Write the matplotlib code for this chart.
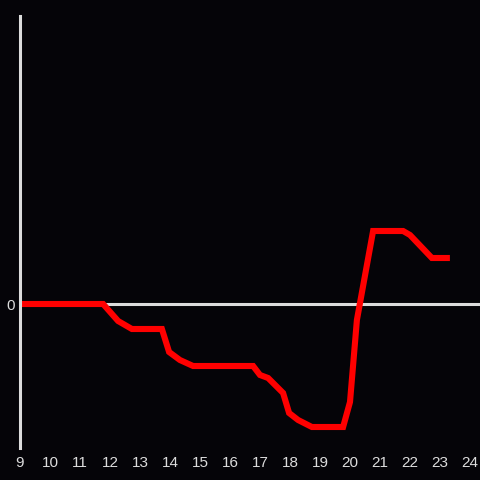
import matplotlib
matplotlib.use("Agg")
from matplotlib import pyplot as plt

# hours of day and value (arbitrary units)
hours = [9.0, 11.77, 12.27, 12.73, 13.73, 13.97, 14.33, 14.77, 16.77, 17.0, 17.27,
         17.77, 17.97, 18.27, 18.73, 19.77, 20.0, 20.23, 20.77, 21.77, 22.0, 22.73, 23.33]
values = [0.0, 0.0, -1.7, -2.5, -2.5, -4.8, -5.6, -6.2, -6.2, -7.1, -7.4,
          -8.9, -10.9, -11.6, -12.3, -12.3, -9.8, -1.6, 7.3, 7.3, 6.9, 4.6, 4.6]
xticks = list(range(9, 25))

bg = '#050408'
fg = '#dcdcdc'

fig = plt.figure(figsize=(4.8, 4.8), dpi=100, facecolor=bg)
ax = fig.add_axes([20 / 480, 32 / 480, 460 / 480, 432 / 480])
ax.set_facecolor(bg)

ax.axhline(0, color=fg, linewidth=2.2, zorder=1)
ax.plot(hours, values, color='#ff0000', linewidth=4.4,
        solid_capstyle='butt', solid_joinstyle='miter', zorder=2)

ax.set_xlim(9, 9 + 460 / 30)
ax.set_ylim(-14.4, 28.8)
ax.set_xticks(xticks)
ax.set_yticks([0])

for side in ['top', 'right', 'bottom']:
    ax.spines[side].set_visible(False)
ax.spines['left'].set_color(fg)
ax.spines['left'].set_linewidth(2.2)

ax.tick_params(axis='x', length=0, pad=6, colors=fg, labelsize=11)
ax.tick_params(axis='y', length=0, pad=4, colors=fg, labelsize=11)
for lbl in ax.get_xticklabels() + ax.get_yticklabels():
    lbl.set_fontfamily('Liberation Sans')

fig.savefig('out.png', dpi=100, facecolor=bg)
